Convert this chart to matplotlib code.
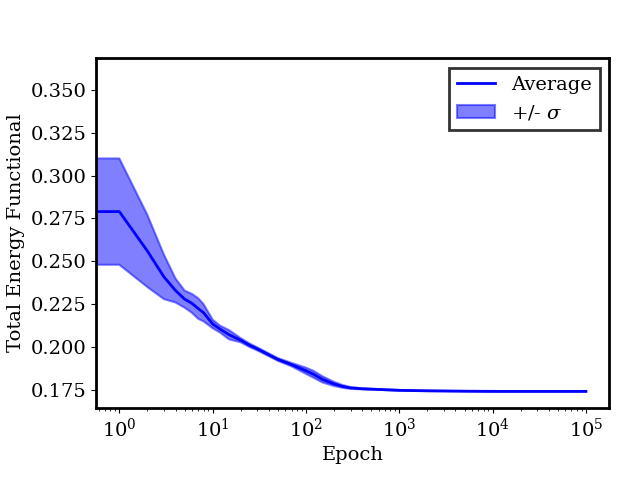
import matplotlib
matplotlib.use("Agg")
import matplotlib.pyplot as plt
import numpy as np

epochs = [0, 1, 2, 3, 4, 5, 6, 7, 8, 10, 12, 15, 20, 25, 30, 40, 50, 70, 100,
          120, 150, 200, 250, 300, 400, 600, 1000, 2000, 5000, 10000, 100000]
mean = [0.279, 0.279, 0.256, 0.241, 0.233, 0.228, 0.2255, 0.2225, 0.2200, 0.2135,
        0.2105, 0.2072, 0.2040, 0.2010, 0.1990, 0.1955, 0.1928, 0.1898, 0.1862,
        0.1842, 0.1812, 0.1785, 0.1770, 0.1762, 0.1757, 0.1753, 0.1748, 0.1745,
        0.1743, 0.1742, 0.1742]
std = [0.031, 0.031, 0.021, 0.013, 0.007, 0.005, 0.0055, 0.006, 0.005, 0.0025,
       0.002, 0.0027, 0.0012, 0.0010, 0.0009, 0.0008, 0.0008, 0.0010, 0.0018,
       0.0020, 0.0018, 0.0012, 0.0008, 0.0005, 0.0003, 0.0002, 0.0002, 0.0001,
       0.0001, 0.0001, 0.0001]

plt.rcParams['font.family'] = ['DejaVu Serif']
plt.rcParams['mathtext.fontset'] = 'dejavuserif'
plt.rcParams['font.size'] = 14

x = np.array(epochs, dtype=float)
m = np.array(mean)
s = np.array(std)

fig, ax = plt.subplots(figsize=(6.4, 4.8), dpi=100)
fig.subplots_adjust(left=0.15, right=0.952, top=0.879, bottom=0.15)

ax.plot(x, m, color='blue', lw=2, label='Average')
ax.fill_between(x, m - s, m + s, color='blue', alpha=0.5, lw=1.5, label=r'+/- $\sigma$')
ax.set_xscale('log')
ax.set_ylim(0.1645, 0.3685)
ax.set_yticks([0.175, 0.200, 0.225, 0.250, 0.275, 0.300, 0.325, 0.350])
ax.yaxis.set_major_formatter(matplotlib.ticker.FormatStrFormatter('%.3f'))
ax.set_xlabel('Epoch')
ax.set_ylabel('Total Energy Functional')
for sp in ax.spines.values():
    sp.set_linewidth(2)
leg = ax.legend(loc='upper right', fancybox=False, framealpha=1)
leg.get_frame().set_edgecolor('#333333')
leg.get_frame().set_linewidth(2)

fig.savefig('out.png', dpi=100)
